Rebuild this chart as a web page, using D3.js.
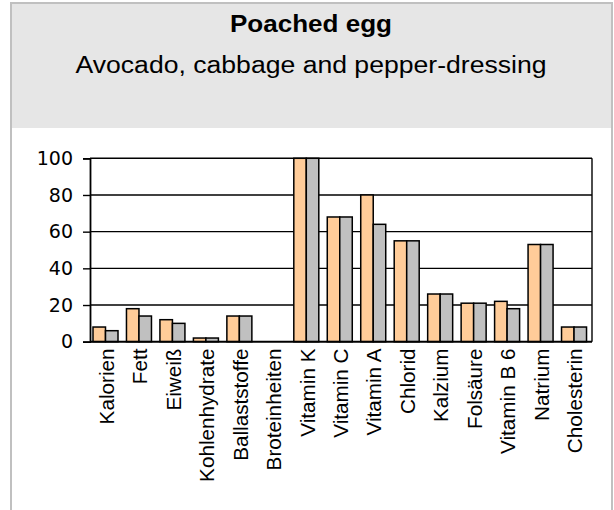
<!DOCTYPE html>
<html>
<head>
<meta charset="utf-8">
<script src="https://cdn.jsdelivr.net/npm/d3@7"></script>
<style>
  body { margin: 0; background: #fff; }
  .cat { font-family: "Liberation Sans", Arial, sans-serif; font-size: 20.7px; fill: #000; }
  .tick text { font-family: "DejaVu Sans", Verdana, sans-serif; font-size: 19px; fill: #000; }
</style>
</head>
<body>
<script>
const categories = ["Kalorien", "Fett", "Eiweiß", "Kohlenhydrate", "Ballaststoffe", "Broteinheiten",
  "Vitamin K", "Vitamin C", "Vitamin A", "Chlorid", "Kalzium", "Folsäure", "Vitamin B 6", "Natrium", "Cholesterin"];
const seriesOrange = [8, 18, 12, 2, 14, 0, 100, 68, 80, 55, 26, 21, 22, 53, 8];
const seriesGray   = [6, 14, 10, 2, 14, 0, 100, 68, 64, 55, 26, 21, 18, 53, 8];
const yTicks = [0, 20, 40, 60, 80, 100];
const title = "Poached egg";
const subtitle = "Avocado, cabbage and pepper-dressing";

const width = 614, height = 510;

const svg = d3.select("body").append("svg")
  .attr("width", width)
  .attr("height", height);

// header panel + outer border
svg.append("rect")
  .attr("x", 11).attr("y", 3)
  .attr("width", 601).attr("height", 125)
  .attr("fill", "#e6e6e6");

svg.append("path")
  .attr("d", "M11,520 V3 H612 V520")
  .attr("fill", "none")
  .attr("stroke", "#c0c0c0")
  .attr("stroke-width", 2);

svg.append("text")
  .text(title)
  .attr("x", 311).attr("y", 32)
  .attr("text-anchor", "middle")
  .attr("textLength", 162)
  .attr("lengthAdjust", "spacingAndGlyphs")
  .style("font-family", "'Liberation Sans', Arial, sans-serif")
  .style("font-weight", "bold")
  .style("font-size", "23.5px");

svg.append("text")
  .text(subtitle)
  .attr("x", 311).attr("y", 73)
  .attr("text-anchor", "middle")
  .attr("textLength", 471)
  .attr("lengthAdjust", "spacingAndGlyphs")
  .style("font-family", "'Liberation Sans', Arial, sans-serif")
  .style("font-size", "23.5px");

// scales
const x = d3.scaleBand().domain(categories).range([90, 592]).padding(0);
const x1 = d3.scaleBand().domain(["o", "g"]).range([3, 28]).padding(0);
const y = d3.scaleLinear().domain([0, 100]).range([341.7, 158.3]);

// gridlines
svg.append("g")
  .selectAll("line")
  .data(yTicks)
  .enter().append("line")
  .attr("x1", 90).attr("x2", 592)
  .attr("y1", d => y(d)).attr("y2", d => y(d))
  .attr("stroke", "#000")
  .attr("stroke-width", 1.4);

// right frame
svg.append("line")
  .attr("x1", 592).attr("x2", 592)
  .attr("y1", y(100)).attr("y2", y(0))
  .attr("stroke", "#000").attr("stroke-width", 1.4);

// y axis
const yAxis = svg.append("g")
  .attr("transform", "translate(90,0)")
  .call(d3.axisLeft(y).tickValues(yTicks).tickSize(7).tickPadding(10));
yAxis.select(".domain").attr("stroke", "#000").attr("stroke-width", 1.8);
yAxis.selectAll(".tick line").attr("stroke", "#000").attr("stroke-width", 1.4);

// bars
const groups = svg.append("g")
  .selectAll("g")
  .data(categories)
  .enter().append("g")
  .attr("transform", d => "translate(" + x(d) + ",0)");

groups.append("rect")
  .attr("x", x1("o"))
  .attr("width", x1.bandwidth())
  .attr("y", (d, i) => y(seriesOrange[i]))
  .attr("height", (d, i) => y(0) - y(seriesOrange[i]))
  .attr("fill", "#ffcc99")
  .attr("stroke", "#000")
  .attr("stroke-width", 1.5)
  .style("display", (d, i) => seriesOrange[i] == 0 ? "none" : null);

groups.append("rect")
  .attr("x", x1("g"))
  .attr("width", x1.bandwidth())
  .attr("y", (d, i) => y(seriesGray[i]))
  .attr("height", (d, i) => y(0) - y(seriesGray[i]))
  .attr("fill", "#c0c0c0")
  .attr("stroke", "#000")
  .attr("stroke-width", 1.5)
  .style("display", (d, i) => seriesGray[i] == 0 ? "none" : null);

// x axis line
svg.append("line")
  .attr("x1", 90).attr("x2", 592)
  .attr("y1", y(0)).attr("y2", y(0))
  .attr("stroke", "#000").attr("stroke-width", 1.8);

// category labels, rotated
svg.append("g")
  .selectAll("text")
  .data(categories)
  .enter().append("text")
  .classed("cat", true)
  .text(d => d)
  .attr("text-anchor", "end")
  .attr("transform", d => "translate(" + (x(d) + x.bandwidth() / 2 + 7) + "," + 348.5 + ") rotate(-90)");
</script>
</body>
</html>
